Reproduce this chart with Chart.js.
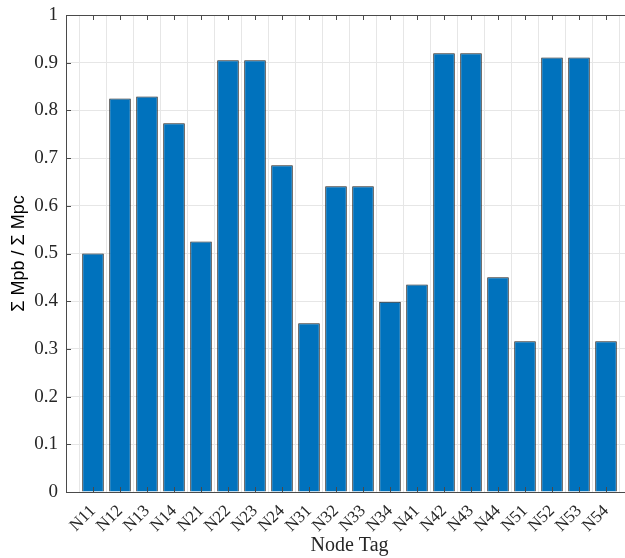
<!DOCTYPE html>
<html>
<head>
<meta charset="utf-8">
<script src="https://cdn.jsdelivr.net/npm/chart.js@4/dist/chart.umd.min.js"></script>
<style>
  html, body { margin: 0; padding: 0; background: #fff; overflow: hidden; }
  #wrap { width: 645px; height: 558px; }
</style>
</head>
<body>
<div id="wrap"><canvas id="myChart" width="645" height="558"></canvas></div>
<script>
const nodeTags = ['N11', 'N12', 'N13', 'N14', 'N21', 'N22', 'N23', 'N24', 'N31', 'N32',
  'N33', 'N34', 'N41', 'N42', 'N43', 'N44', 'N51', 'N52', 'N53', 'N54'];
const momentRatio = [0.500, 0.825, 0.829, 0.773, 0.525, 0.905, 0.905, 0.685, 0.354, 0.641,
  0.641, 0.399, 0.435, 0.920, 0.920, 0.450, 0.316, 0.911, 0.911, 0.316];
const yTicks = [0, 0.1, 0.2, 0.3, 0.4, 0.5, 0.6, 0.7, 0.8, 0.9, 1];

const axisColor = '#4a4a4a';
const serif = '"Liberation Serif", "DejaVu Serif", serif';

// matlab-ish box with inward ticks
const boxPlugin = {
  id: 'box',
  afterDraw(chart) {
    const { ctx, chartArea: a, scales } = chart;
    ctx.save();
    ctx.strokeStyle = axisColor;
    ctx.lineWidth = 1;
    ctx.strokeRect(Math.round(a.left) + 0.5, Math.round(a.top) + 0.5,
      Math.round(a.right - a.left), Math.round(a.bottom - a.top));
    ctx.beginPath();
    const len = 5;
    scales.x.ticks.forEach(t => {
      if (t.value < 1 || t.value > nodeTags.length) return;
      const px = Math.round(scales.x.getPixelForValue(t.value)) + 0.5;
      ctx.moveTo(px, a.bottom); ctx.lineTo(px, a.bottom - len);
      ctx.moveTo(px, a.top); ctx.lineTo(px, a.top + len);
    });
    yTicks.forEach(v => {
      const py = Math.round(scales.y.getPixelForValue(v)) + 0.5;
      ctx.moveTo(a.left, py); ctx.lineTo(a.left + len, py);
      ctx.moveTo(a.right, py); ctx.lineTo(a.right - len, py);
    });
    ctx.stroke();
    ctx.restore();
  }
};

const ctx = document.getElementById('myChart').getContext('2d');
new Chart(ctx, {
  type: 'bar',
  data: {
    datasets: [{
      data: nodeTags.map((tag, i) => ({ x: i + 1, y: momentRatio[i] })),
      backgroundColor: '#0072BD',
      borderColor: '#1f1f1f',
      borderWidth: 1,
      categoryPercentage: 0.8,
      barPercentage: 1
    }]
  },
  options: {
    responsive: false,
    animation: false,
    layout: { padding: { top: 15, right: 12, left: 0, bottom: 0 } },
    plugins: { legend: { display: false }, tooltip: { enabled: false } },
    scales: {
      x: {
        type: 'linear',
        min: 0,
        max: nodeTags.length + 1,
        offset: false,
        grid: { color: '#e6e6e6', drawTicks: false },
        border: { display: false },
        ticks: {
          stepSize: 1,
          autoSkip: false,
          maxRotation: 45,
          minRotation: 45,
          padding: 9,
          color: '#262626',
          font: { family: serif, size: 17 },
          callback: v => nodeTags[v - 1] || ''
        },
        title: {
          display: true,
          text: 'Node Tag',
          color: '#262626',
          font: { family: serif, size: 20 },
          padding: { top: 0, bottom: 0 }
        },
        afterFit: s => { s.height = 66; s.paddingLeft = 0; s.paddingRight = 0; }
      },
      y: {
        min: 0,
        max: 1,
        grid: { color: '#e6e6e6', drawTicks: false },
        border: { display: false },
        afterBuildTicks: s => { s.ticks = yTicks.map(v => ({ value: v })); },
        ticks: {
          padding: 8,
          color: '#262626',
          font: { family: serif, size: 19 },
          callback: v => String(v)
        },
        title: {
          display: true,
          text: 'Σ Mpb / Σ Mpc',
          color: '#000',
          font: { family: '"Liberation Sans", Arial, sans-serif', size: 18 },
          padding: { top: 8, bottom: 0 }
        },
        afterFit: s => { s.width = 66; s.paddingTop = 0; s.paddingBottom = 0; }
      }
    }
  },
  plugins: [boxPlugin]
});
</script>
</body>
</html>
